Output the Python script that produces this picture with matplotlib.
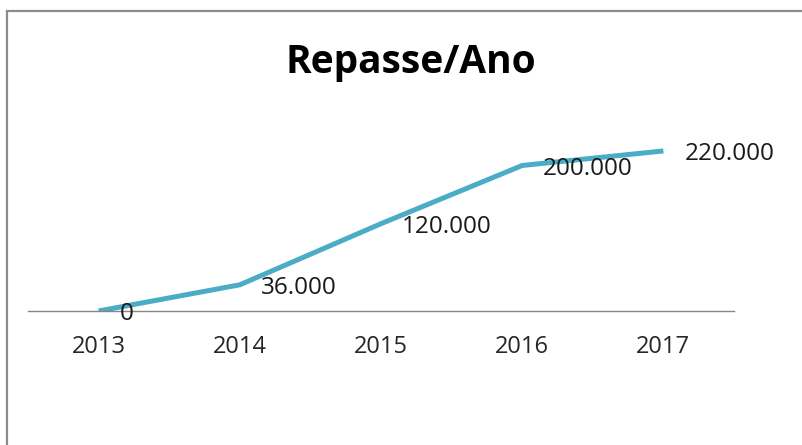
import matplotlib.pyplot as plt
from matplotlib.patches import Rectangle

# dados do grafico
anos = ['2013', '2014', '2015', '2016', '2017']
repasse = [0, 36000, 120000, 200000, 220000]
rotulos = ['0', '36.000', '120.000', '200.000', '220.000']

plt.rcParams['font.family'] = ['Open Sans', 'DejaVu Sans']

fig = plt.figure(figsize=(8.03, 4.45), dpi=100)

# moldura cinza do grafico (so aparece em cima e a esquerda)
fig.patches.append(Rectangle((7/803, -0.1), 1.0, (445-11)/445 + 0.1,
                             transform=fig.transFigure, fill=False,
                             edgecolor='#8c8c8c', lw=1.6))

ax = fig.add_axes([28/803, 134/445, 706/803, 211/445])
x = list(range(len(anos)))
ax.plot(x, repasse, color='#4bacc6', lw=3.6, solid_capstyle='butt')

ax.set_xlim(-0.5, len(anos) - 0.5)
ax.set_ylim(0, 290000)

for s in ['top', 'right', 'left']:
  ax.spines[s].set_visible(False)
ax.spines['bottom'].set_color('#868686')
ax.spines['bottom'].set_linewidth(1.0)
ax.set_yticks([])
ax.set_xticks(x)
ax.set_xticklabels(anos, fontsize=17, color='#262626')
ax.tick_params(axis='x', length=0, pad=17)

# rotulos de dados a direita de cada ponto
for i in range(len(anos)):
  ax.annotate(rotulos[i], (x[i], repasse[i]), xytext=(21, -9.5),
              textcoords='offset pixels', ha='left', va='baseline',
              fontsize=17.5, color='#1a1a1a', annotation_clip=False)

fig.text(411/803, 1 - 73/445, 'Repasse/Ano', ha='center', va='baseline',
         fontsize=28, fontweight='bold', color='black')

fig.savefig('out.png', dpi=100)
